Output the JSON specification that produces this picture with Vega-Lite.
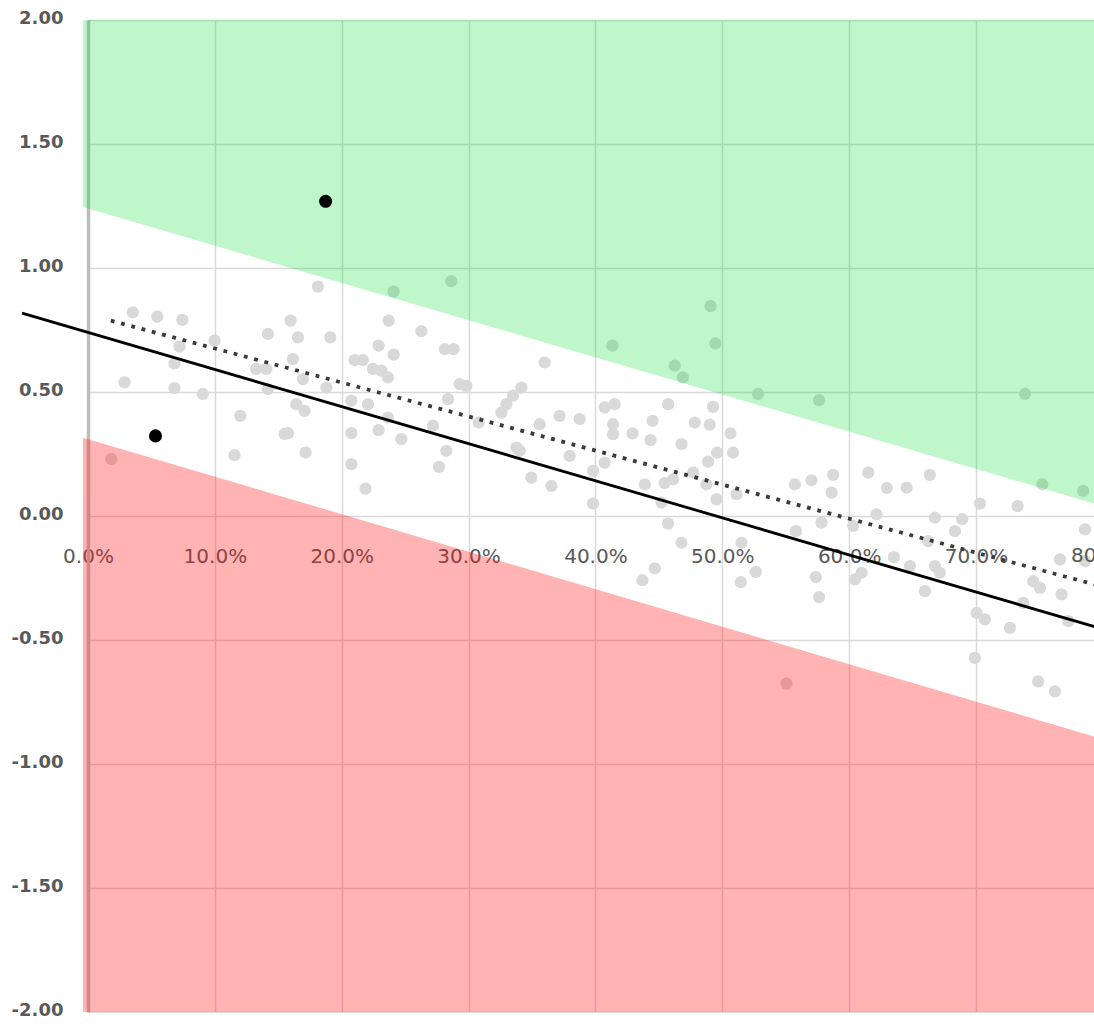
{
  "$schema": "https://vega.github.io/schema/vega-lite/v6.json",
  "width": 1006,
  "height": 992,
  "autosize": {"type": "none"},
  "padding": {"left": 88, "top": 20, "right": 0, "bottom": 14},
  "background": "white",
  "config": {"view": {"stroke": null}},
  "datasets": {
    "pts": [
      {"x":0.0353,"y":0.821},{"x":0.0546,"y":0.804},{"x":0.0743,"y":0.791},{"x":0.0722,"y":0.683},{"x":0.0998,"y":0.707},{"x":0.0682,"y":0.615},{"x":0.1418,"y":0.734},{"x":0.1326,"y":0.593},{"x":0.1405,"y":0.593},{"x":0.0288,"y":0.539},{"x":0.0682,"y":0.516},{"x":0.0905,"y":0.492},{"x":0.1418,"y":0.512},{"x":0.120,"y":0.404},{"x":0.155,"y":0.331},{"x":0.1155,"y":0.245},{"x":0.0183,"y":0.229},
      {"x":0.1812,"y":0.925},{"x":0.2409,"y":0.905},{"x":0.2864,"y":0.947},{"x":0.1597,"y":0.788},{"x":0.1655,"y":0.720},{"x":0.191,"y":0.720},{"x":0.237,"y":0.788},{"x":0.2628,"y":0.745},{"x":0.2291,"y":0.687},{"x":0.2409,"y":0.651},{"x":0.2811,"y":0.673},{"x":0.2883,"y":0.673},{"x":0.1615,"y":0.633},{"x":0.2102,"y":0.629},{"x":0.2167,"y":0.629},{"x":0.2246,"y":0.593},{"x":0.2312,"y":0.586},{"x":0.2364,"y":0.559},{"x":0.1694,"y":0.552},{"x":0.1879,"y":0.518},{"x":0.293,"y":0.532},{"x":0.2983,"y":0.525},{"x":0.1642,"y":0.451},{"x":0.1707,"y":0.424},{"x":0.2076,"y":0.465},{"x":0.2207,"y":0.451},{"x":0.2838,"y":0.471},{"x":0.2364,"y":0.397},{"x":0.2719,"y":0.364},{"x":0.308,"y":0.377},{"x":0.1576,"y":0.334},{"x":0.2076,"y":0.334},{"x":0.2291,"y":0.346},{"x":0.247,"y":0.310},{"x":0.1715,"y":0.256},{"x":0.2825,"y":0.263},{"x":0.2076,"y":0.209},{"x":0.2767,"y":0.198},{"x":0.2188,"y":0.110},
      {"x":0.36,"y":0.619},{"x":0.4134,"y":0.687},{"x":0.4625,"y":0.606},{"x":0.4689,"y":0.559},{"x":0.3416,"y":0.518},{"x":0.335,"y":0.485},{"x":0.3298,"y":0.451},{"x":0.3259,"y":0.417},{"x":0.3718,"y":0.404},{"x":0.3876,"y":0.391},{"x":0.3561,"y":0.370},{"x":0.4073,"y":0.438},{"x":0.4152,"y":0.451},{"x":0.4573,"y":0.451},{"x":0.4139,"y":0.370},{"x":0.4139,"y":0.330},{"x":0.4292,"y":0.333},{"x":0.445,"y":0.384},{"x":0.4434,"y":0.306},{"x":0.4678,"y":0.290},{"x":0.3377,"y":0.276},{"x":0.3403,"y":0.263},{"x":0.3797,"y":0.242},{"x":0.4073,"y":0.215},{"x":0.3981,"y":0.182},{"x":0.3495,"y":0.155},{"x":0.3653,"y":0.121},{"x":0.4389,"y":0.128},{"x":0.4546,"y":0.133},{"x":0.4612,"y":0.148},
      {"x":0.3981,"y":0.050},{"x":0.452,"y":0.054},{"x":0.4573,"y":-0.031},{"x":0.4678,"y":-0.108},{"x":0.4468,"y":-0.211},{"x":0.4371,"y":-0.259},
      {"x":0.4907,"y":0.846},{"x":0.4946,"y":0.696},{"x":0.5282,"y":0.492},{"x":0.5763,"y":0.467},{"x":0.4927,"y":0.440},{"x":0.4783,"y":0.377},{"x":0.4901,"y":0.368},{"x":0.5065,"y":0.333},{"x":0.4959,"y":0.256},{"x":0.4888,"y":0.219},{"x":0.5085,"y":0.256},{"x":0.477,"y":0.175},{"x":0.5572,"y":0.128},{"x":0.5703,"y":0.144},{"x":0.5874,"y":0.166},{"x":0.615,"y":0.175},{"x":0.6297,"y":0.113},{"x":0.4875,"y":0.128},
      {"x":0.4954,"y":0.067},{"x":0.5112,"y":0.088},{"x":0.5861,"y":0.094},{"x":0.5151,"y":-0.108},{"x":0.5264,"y":-0.225},{"x":0.5146,"y":-0.267},{"x":0.558,"y":-0.061},{"x":0.5782,"y":-0.027},{"x":0.5737,"y":-0.246},{"x":0.5763,"y":-0.327},{"x":0.6032,"y":-0.040},{"x":0.6216,"y":0.007},{"x":0.6098,"y":-0.229},{"x":0.6045,"y":-0.256},{"x":0.5506,"y":-0.676},
      {"x":0.7386,"y":0.492},{"x":0.6636,"y":0.166},{"x":0.6453,"y":0.114},{"x":0.7522,"y":0.128},{"x":0.7845,"y":0.101},
      {"x":0.7031,"y":0.050},{"x":0.7328,"y":0.040},{"x":0.6676,"y":-0.007},{"x":0.6891,"y":-0.013},{"x":0.6834,"y":-0.061},{"x":0.7859,"y":-0.054},{"x":0.6623,"y":-0.101},{"x":0.6353,"y":-0.166},{"x":0.6479,"y":-0.202},{"x":0.6676,"y":-0.202},{"x":0.6715,"y":-0.229},{"x":0.6597,"y":-0.303},{"x":0.7662,"y":-0.175},{"x":0.7451,"y":-0.263},{"x":0.7504,"y":-0.290},{"x":0.7675,"y":-0.316},{"x":0.7372,"y":-0.350},{"x":0.7005,"y":-0.391},{"x":0.707,"y":-0.417},{"x":0.7267,"y":-0.451},{"x":0.7727,"y":-0.424},{"x":0.7859,"y":-0.182},{"x":0.6991,"y":-0.572},{"x":0.749,"y":-0.667},{"x":0.7622,"y":-0.707}
    ],
    "key": [{"x":0.0532,"y":0.323},{"x":0.1873,"y":1.269}],
    "bands": [
      {"band":"green","x":-0.004,"lo":1.246,"hi":2},
      {"band":"green","x":0.8,"lo":0.04,"hi":2},
      {"band":"red","x":-0.004,"lo":-2,"hi":0.316},
      {"band":"red","x":0.8,"lo":-2,"hi":-0.9}
    ],
    "lines": [
      {"line":"fit","x":-0.052,"y":0.818},{"line":"fit","x":0.8,"y":-0.456},
      {"line":"dotted","x":0.018,"y":0.788},{"line":"dotted","x":0.8,"y":-0.285}
    ],
    "ticklab": [{"x":0.8,"y":0,"label":"80.0%"}]
  },
  "layer": [
    {
      "data": {"name": "pts"},
      "mark": {"type": "circle", "size": 150, "color": "#d9d9d9", "opacity": 1},
      "encoding": {
        "x": {"field": "x", "type": "quantitative",
          "scale": {"domain": [0, 0.793], "nice": false, "zero": false},
          "axis": {"values": [0,0.1,0.2,0.3,0.4,0.5,0.6,0.7], "format": ".1%", "orient": "bottom", "offset": -496,
            "domain": false, "ticks": false, "grid": true, "gridColor": "#d9d9d9", "gridWidth": 1.5,
            "labelFont": "DejaVu Sans", "labelFontSize": 20, "labelColor": "#595959", "labelPadding": 30,
            "labelBound": false, "labelOverlap": false, "labelFlush": false, "title": null}},
        "y": {"field": "y", "type": "quantitative",
          "scale": {"domain": [-2, 2], "nice": false, "zero": false},
          "axis": {"values": [-2,-1.5,-1,-0.5,0,0.5,1,1.5,2],
            "labelExpr": "(datum.value < 0 ? '-' : '') + format(abs(datum.value), '.2f')",
            "domain": true, "domainColor": "#bdbdbd", "domainWidth": 3.5, "ticks": false,
            "grid": true, "gridColor": "#d9d9d9", "gridWidth": 1.5,
            "labelFont": "DejaVu Sans", "labelFontSize": 18, "labelFontWeight": "bold", "labelColor": "#595959", "labelPadding": 25, "labelOffset": -2,
            "labelBound": false, "labelOverlap": false, "labelFlush": false, "title": null}}
      }
    },
    {
      "data": {"name": "ticklab"},
      "mark": {"type": "text", "font": "DejaVu Sans", "fontSize": 20, "color": "#595959", "align": "center", "baseline": "top", "dy": 30, "clip": false},
      "encoding": {
        "x": {"field": "x", "type": "quantitative"},
        "y": {"field": "y", "type": "quantitative"},
        "text": {"field": "label"}
      }
    },
    {
      "data": {"name": "bands"},
      "transform": [{"filter": "datum.band === 'green'"}],
      "mark": {"type": "area", "color": "#00dd2a", "opacity": 0.25, "clip": false},
      "encoding": {
        "x": {"field": "x", "type": "quantitative"},
        "y": {"field": "lo", "type": "quantitative"},
        "y2": {"field": "hi"}
      }
    },
    {
      "data": {"name": "bands"},
      "transform": [{"filter": "datum.band === 'red'"}],
      "mark": {"type": "area", "color": "#ff1414", "opacity": 0.32, "clip": false},
      "encoding": {
        "x": {"field": "x", "type": "quantitative"},
        "y": {"field": "lo", "type": "quantitative"},
        "y2": {"field": "hi"}
      }
    },
    {
      "data": {"name": "lines"},
      "transform": [{"filter": "datum.line === 'fit'"}],
      "mark": {"type": "line", "color": "#000000", "strokeWidth": 2.8, "clip": false},
      "encoding": {
        "x": {"field": "x", "type": "quantitative"},
        "y": {"field": "y", "type": "quantitative"}
      }
    },
    {
      "data": {"name": "lines"},
      "transform": [{"filter": "datum.line === 'dotted'"}],
      "mark": {"type": "line", "color": "#3a3a3a", "strokeWidth": 3.8, "strokeDash": [3.8, 6.8], "strokeCap": "butt", "clip": false},
      "encoding": {
        "x": {"field": "x", "type": "quantitative"},
        "y": {"field": "y", "type": "quantitative"}
      }
    },
    {
      "data": {"name": "key"},
      "mark": {"type": "circle", "size": 170, "color": "#000000", "opacity": 1},
      "encoding": {
        "x": {"field": "x", "type": "quantitative"},
        "y": {"field": "y", "type": "quantitative"}
      }
    }
  ]
}
